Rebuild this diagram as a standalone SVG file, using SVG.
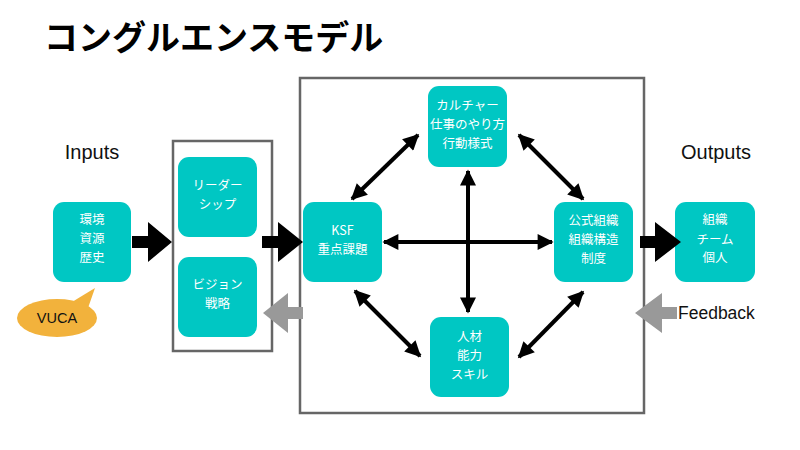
<svg xmlns="http://www.w3.org/2000/svg" width="800" height="450" viewBox="0 0 800 450">
<defs>
<style>
.node rect{fill:#00C7C3;}
.node text{fill:#fff;font-family:"Noto Sans CJK JP","Liberation Sans",sans-serif;font-size:12.5px;text-anchor:middle;}
.lbl{font-family:"Liberation Sans","Noto Sans CJK JP",sans-serif;fill:#111;}
.frame{fill:none;stroke:#666;stroke-width:2.5;}
.conn{stroke:#000;stroke-width:4;fill:none;marker-start:url(#ah);marker-end:url(#ah);}
</style>
<marker id="ah" viewBox="0 0 10 10" refX="9" refY="5" markerWidth="4.4" markerHeight="4" orient="auto-start-reverse" markerUnits="strokeWidth">
<path d="M0,0 L10,5 L0,10 Z" fill="#000"/>
</marker>
</defs>
<rect width="800" height="450" fill="#fff"/>
<text x="44" y="50" font-family="'Noto Sans CJK JP',sans-serif" font-weight="bold" font-size="34" fill="#000">コングルエンスモデル</text>
<text class="lbl" x="92" y="159" font-size="20" text-anchor="middle">Inputs</text>
<text class="lbl" x="716" y="159" font-size="20" text-anchor="middle">Outputs</text>
<text class="lbl" x="678" y="319" font-size="17.5">Feedback</text>
<rect class="frame" x="173" y="141" width="99" height="210"/>
<rect class="frame" x="300" y="78" width="344" height="335"/>
<g id="vuca">
<path d="M72,302 L95,288 L88,308 Z" fill="#F2B23C"/>
<ellipse cx="57" cy="318" rx="40" ry="19" fill="#F2B23C"/>
<text x="57" y="323" font-family="'Liberation Sans',sans-serif" font-size="14.5" fill="#111" text-anchor="middle">VUCA</text>
</g>
<g id="inputs" class="node"><rect x="53" y="202" width="78" height="80" rx="11"/>
<text x="92" y="224">環境</text><text x="92" y="243">資源</text><text x="92" y="262">歴史</text></g>
<g id="leadership" class="node"><rect x="178" y="157" width="79" height="80" rx="11"/>
<text x="217.5" y="190">リーダー</text><text x="217.5" y="209">シップ</text></g>
<g id="vision" class="node"><rect x="178" y="257" width="79" height="80" rx="11"/>
<text x="217.5" y="289">ビジョン</text><text x="217.5" y="308">戦略</text></g>
<g id="culture" class="node"><rect x="428" y="86" width="79" height="81" rx="11"/>
<text x="467.5" y="110">カルチャー</text><text x="467.5" y="129">仕事のやり方</text><text x="467.5" y="148">行動様式</text></g>
<g id="ksf" class="node"><rect x="303" y="202" width="79" height="80" rx="11"/>
<text x="342.5" y="235">KSF</text><text x="342.5" y="254">重点課題</text></g>
<g id="formal" class="node"><rect x="554" y="202" width="79" height="80" rx="11"/>
<text x="593.5" y="225">公式組織</text><text x="593.5" y="244">組織構造</text><text x="593.5" y="263">制度</text></g>
<g id="people" class="node"><rect x="430" y="317" width="79" height="80" rx="11"/>
<text x="469.5" y="341">人材</text><text x="469.5" y="360">能力</text><text x="469.5" y="379">スキル</text></g>
<g id="outputs" class="node"><rect x="675" y="202" width="80" height="80" rx="11"/>
<text x="715" y="224">組織</text><text x="715" y="244">チーム</text><text x="715" y="262">個人</text></g>
<g id="connectors">
<path d="M132,236 H148 V222 L172,242 L148,262 V248 H132 Z" fill="#000"/>
<path d="M262,236 H278 V222 L303,242 L278,262 V248 H262 Z" fill="#000"/>
<path d="M640,236 H655 V222 L681,242 L655,262 V248 H640 Z" fill="#000"/>
<path d="M303,307 H288 V293 L263,313 L288,333 V319 H303 Z" fill="#999"/>
<path d="M677,307 H662 V293 L635,313 L662,333 V319 H677 Z" fill="#999"/>
<line class="conn" x1="384" y1="242" x2="552" y2="242"/>
<line class="conn" x1="468" y1="171" x2="468" y2="312"/>
<line class="conn" x1="352" y1="199" x2="418" y2="135"/>
<line class="conn" x1="519" y1="135" x2="583" y2="199"/>
<line class="conn" x1="355" y1="291" x2="420" y2="356"/>
<line class="conn" x1="583" y1="292" x2="519" y2="357"/>
</g>
</svg>
